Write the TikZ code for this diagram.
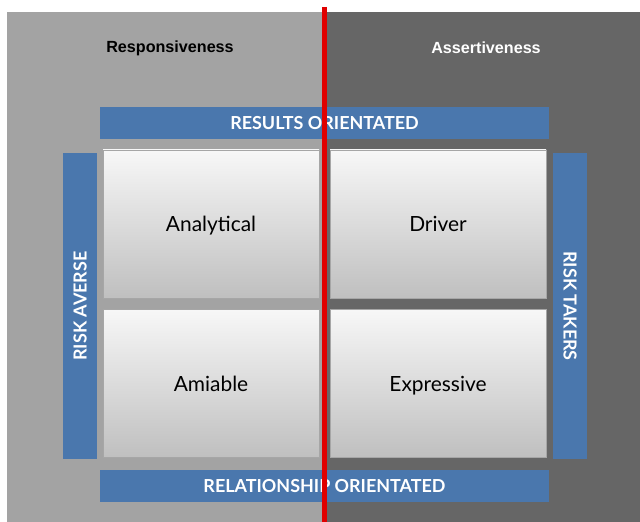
\documentclass[tikz,border=0pt]{standalone}
\usepackage{fontspec}
\setmainfont{Lato}
\newfontfamily\headfont{Liberation Sans}
\usepackage{xcolor}
\usepackage{tikz}

\definecolor{panelL}{HTML}{A3A3A3}
\definecolor{panelR}{HTML}{666666}
\definecolor{barblue}{HTML}{4A77AD}
\definecolor{splitred}{HTML}{E00000}
\definecolor{boxedge}{HTML}{A6A6A6}

\begin{document}
\begin{tikzpicture}[
  x=1bp,y=-1bp,
  quad/.style={draw=boxedge,line width=0.8bp,top color=white!97!black,
               bottom color=black!25,minimum width=216bp,minimum height=148bp,
               inner sep=0pt,text height=15bp,text depth=0pt,
               font=\fontsize{21}{25}\selectfont,text=black},
  hbar/.style={fill=barblue,minimum width=449bp,minimum height=32bp,inner sep=0pt,
               text height=13bp,text depth=0pt,
               font=\fontsize{18}{21}\selectfont\bfseries,text=white},
  vbar/.style={fill=barblue,minimum width=306bp,minimum height=34bp,inner sep=0pt,
               text height=13bp,text depth=0pt,
               font=\fontsize{18}{21}\selectfont\bfseries,text=white},
  head/.style={font=\headfont\fontsize{16.2}{19}\selectfont\bfseries}]

\useasboundingbox (0,0) rectangle (640,522);

% ---- background panels -----------------------------------------------
\fill[panelL] (7,12) rectangle (324,522);
\fill[panelR] (324,12) rectangle (640,522);

% ---- headings ---------------------------------------------------------
\node[head,text=black] (resp) at (170,48) {Responsiveness};
\node[head,text=white] (asst) at (486,48) {Assertiveness};

% ---- side bars --------------------------------------------------------
\node[hbar] (results) at (324.5,123) {RESULTS ORIENTATED};
\node[hbar] (relation) at (324.5,485.5) {RELATIONSHIP ORIENTATED};
\node[vbar,rotate=90] (averse) at (80,306) {RISK AVERSE};
\node[vbar,rotate=-90] (takers) at (570,306) {RISK TAKERS};

% ---- quadrants --------------------------------------------------------
\node[quad] (analytical) at (211,224) {Analytical};
\node[quad] (driver)     at (438,224) {Driver};
\node[quad] (amiable)    at (211,383.5) {Amiable};
\node[quad] (expressive) at (438,383.5) {Expressive};

% ---- split line -------------------------------------------------------
\draw[splitred,line width=5bp] (324.5,7) -- (324.5,522);
\end{tikzpicture}
\end{document}
